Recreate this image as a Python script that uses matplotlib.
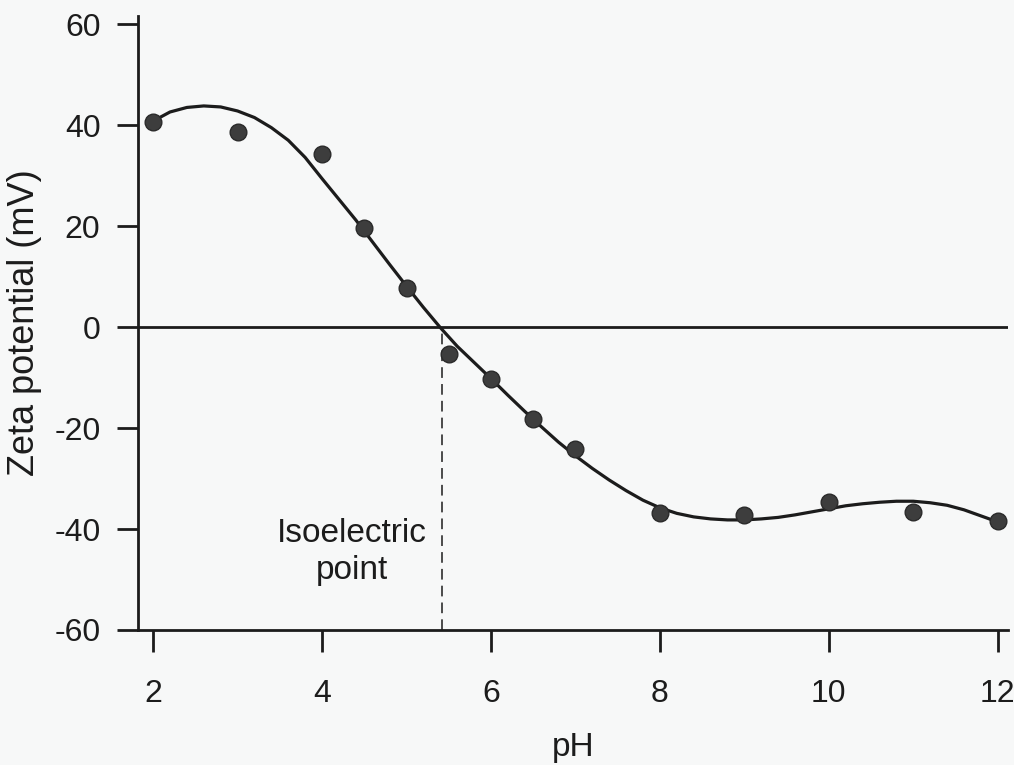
import numpy as np
import matplotlib
matplotlib.use("Agg")
import matplotlib.pyplot as plt

plt.rcParams['font.family'] = ['Liberation Sans', 'DejaVu Sans']
plt.rcParams['axes.unicode_minus'] = False

# measured zeta potential
ph_meas = [2, 3, 4, 4.5, 5, 5.5, 6, 6.5, 7, 8, 9, 10, 11, 12]
zeta_meas = [40.7, 38.7, 34.3, 19.7, 7.8, -5.4, -10.3, -18.2, -24.2,
             -36.8, -37.2, -34.7, -36.6, -38.4]

# smooth trend line through the measurements
ph_fit = [2.0, 2.2, 2.4, 2.6, 2.8, 3.0, 3.2, 3.4, 3.6, 3.8, 4.0, 4.2, 4.4,
          4.6, 4.8, 5.0, 5.2, 5.4, 5.6, 5.8, 6.0, 6.2, 6.4, 6.6, 6.8, 7.0,
          7.2, 7.4, 7.6, 7.8, 8.0, 8.2, 8.4, 8.6, 8.8, 9.0, 9.2, 9.4, 9.6,
          9.8, 10.0, 10.2, 10.4, 10.6, 10.8, 11.0, 11.2, 11.4, 11.6, 11.8, 12.0]
zeta_fit = [40.8, 42.6, 43.5, 43.8, 43.6, 42.8, 41.5, 39.5, 37.0, 33.6, 29.4,
            25.3, 21.2, 16.8, 12.4, 8.1, 3.9, -0.1, -3.8, -7.0, -10.2, -13.5,
            -16.7, -19.8, -22.8, -25.5, -28.0, -30.3, -32.4, -34.3, -35.8,
            -36.9, -37.6, -38.0, -38.2, -38.2, -38.0, -37.7, -37.2, -36.6,
            -36.0, -35.4, -35.0, -34.7, -34.5, -34.5, -34.8, -35.3, -36.2,
            -37.4, -38.6]

iep = 5.42
xticks = [2, 4, 6, 8, 10, 12]
yticks = [-60, -40, -20, 0, 20, 40, 60]

ink = '#1c1c1c'
fig = plt.figure(figsize=(10.14, 7.65), dpi=100, facecolor='#f7f8f8')
ax = fig.add_axes([0.136, 0.1765, 0.858, 0.8025])
ax.set_facecolor('#f7f8f8')

ax.axhline(0, color=ink, lw=2.0, zorder=1)
ax.plot([iep, iep], [-60, 0], color=ink, lw=1.1, ls=(0, (7, 4)), zorder=1)
ax.plot(ph_fit, zeta_fit, color=ink, lw=2.3, zorder=2)
ax.plot(ph_meas, zeta_meas, 'o', ms=12, color='#3d3d3d', mec='#2a2a2a',
        mew=1.0, zorder=3)

ax.text(4.35, -44.6, 'Isoelectric\npoint', ha='center', va='center',
        fontsize=24, color=ink, linespacing=1.25)

ax.set_xlim(1.82, 12.12)
ax.set_ylim(-60, 61.6)
ax.set_xticks(xticks)
ax.set_yticks(yticks)

for side in ['top', 'right']:
    ax.spines[side].set_visible(False)
for side in ['left', 'bottom']:
    ax.spines[side].set_linewidth(2.0)
    ax.spines[side].set_color(ink)

ax.tick_params(axis='x', direction='out', length=16, width=2.0, pad=19,
               labelsize=23, colors=ink)
ax.tick_params(axis='y', direction='out', length=15, width=2.0, pad=12,
               labelsize=23, colors=ink)

ax.set_xlabel('pH', fontsize=24, color=ink, labelpad=17)
ax.set_ylabel('Zeta potential (mV)', fontsize=26, color=ink, labelpad=9)

fig.savefig('out.png', dpi=100, facecolor=fig.get_facecolor())
